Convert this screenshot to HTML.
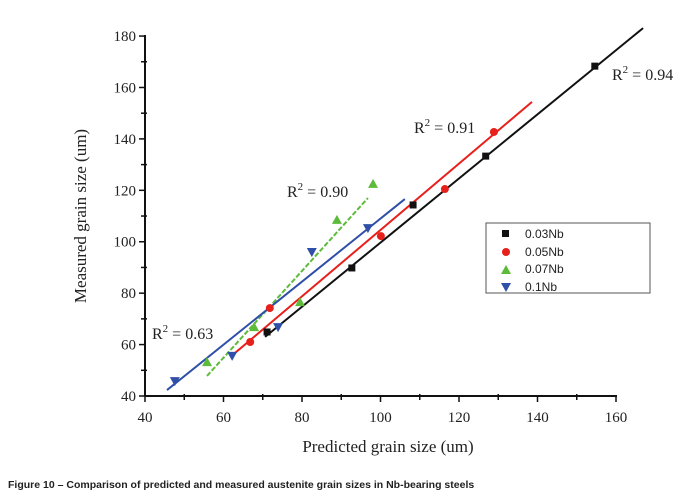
<!DOCTYPE html>
<html><head><meta charset="utf-8"><style>
html,body{margin:0;padding:0;background:#fff;}
svg{display:block;}
.tk{font-family:"Liberation Serif",serif;font-size:15px;fill:#222;}
</style></head><body>
<svg id="chart" width="694" height="493" viewBox="0 0 694 493">
<g id="axes"></g><g id="lines"></g><g id="marks"></g>
<text x="86" y="216" transform="rotate(-90 86 216)" text-anchor="middle" font-family="Liberation Serif,serif" font-size="17" fill="#222">Measured grain size (um)</text>
<text x="388" y="452" text-anchor="middle" font-family="Liberation Serif,serif" font-size="17" fill="#222">Predicted grain size (um)</text>
<text x="8" y="488" font-family="Liberation Sans,sans-serif" font-size="10.5" font-weight="bold" fill="#222">Figure 10 – Comparison of predicted and measured austenite grain sizes in Nb-bearing steels</text>
<g font-family="Liberation Serif,serif" font-size="16" fill="#222">
<text x="612" y="80">R<tspan dy="-7" font-size="11">2</tspan><tspan dy="7"> = 0.94</tspan></text>
<text x="414" y="133">R<tspan dy="-7" font-size="11">2</tspan><tspan dy="7"> = 0.91</tspan></text>
<text x="287" y="197">R<tspan dy="-7" font-size="11">2</tspan><tspan dy="7"> = 0.90</tspan></text>
<text x="152" y="339">R<tspan dy="-7" font-size="11">2</tspan><tspan dy="7"> = 0.63</tspan></text>
</g>
<g>
<rect x="486" y="223" width="164" height="70" fill="#fff" stroke="#555" stroke-width="1"/>
<rect x="502" y="230" width="7" height="7" fill="#111"/>
<text x="525" y="238" font-family="Liberation Sans,sans-serif" font-size="12" fill="#222">0.03Nb</text>
<circle cx="506" cy="252" r="4" fill="#e8201c"/>
<text x="525" y="256" font-family="Liberation Sans,sans-serif" font-size="12" fill="#222">0.05Nb</text>
<polygon points="506,265 511,274 501,274" fill="#5dbb3a"/>
<text x="525" y="273" font-family="Liberation Sans,sans-serif" font-size="12" fill="#222">0.07Nb</text>
<polygon points="501,283 511,283 506,292" fill="#2f4fa8"/>
<text x="525" y="291" font-family="Liberation Sans,sans-serif" font-size="12" fill="#222">0.1Nb</text>
</g>
</svg>
<script>
const xTicks=[40,60,80,100,120,140,160];
const yTicks=[40,60,80,100,120,140,160,180];
const seriesNames=["0.03Nb","0.05Nb","0.07Nb","0.1Nb"];
const blackX=[71.1,92.7,108.3,126.8,154.6];
const blackY=[64.9,89.8,114.3,133.3,168.3];
const redX=[66.8,71.8,100.1,116.4,128.9];
const redY=[61,74.2,102.2,120.5,142.7];
const greenX=[55.8,67.8,79.5,88.9,98.1];
const greenY=[53.2,66.8,76.5,108.5,122.5];
const blueX=[47.6,62.2,73.9,82.5,96.8];
const blueY=[45.8,55.6,66.8,96,105.3];
const blackFitX=[70.6,166.9];const blackFitY=[63,183.1];
const redFitX=[62.9,138.6];const redFitY=[56.7,154.4];
const greenFitX=[55.8,96.8];const greenFitY=[47.8,117];
const blueFitX=[45.6,106.2];const blueFitY=[42.3,116.6];

const X0=145,XS=3.925,Y0=396,YS=2.571;
function sx(v){return X0+(v-40)*XS;}
function sy(v){return Y0-(v-40)*YS;}
const NS="http://www.w3.org/2000/svg";
function mk(t,a,p){const e=document.createElementNS(NS,t);for(const k in a)e.setAttribute(k,a[k]);p.appendChild(e);return e;}
const ax=document.getElementById('axes');
let l=mk('line',{x1:X0,y1:sy(180)-1,x2:X0,y2:Y0,stroke:'#111','stroke-width':2},ax);


l=mk('line',{x1:X0,y1:Y0,x2:sx(160)+1,y2:Y0,stroke:'#111','stroke-width':2},ax);


for(let v=40;v<=160;v+=10){const x=sx(v);const maj=(v%20===0);
 mk('line',{x1:x,y1:Y0-(maj?0:2),x2:x,y2:Y0+(maj?6:4),stroke:'#111','stroke-width':1.5},ax);}
for(let v=40;v<=180;v+=10){const y=sy(v);const maj=(v%20===0);
 mk('line',{x1:X0-(maj?6:4),y1:y,x2:X0+(maj?0:2),y2:y,stroke:'#111','stroke-width':1.5},ax);}
xTicks.forEach(v=>{const t=mk('text',{x:sx(v),y:422,'text-anchor':'middle',class:'tk'},ax);t.textContent=v;
 
 });
yTicks.forEach(v=>{const t=mk('text',{x:X0-9,y:sy(v)+5,'text-anchor':'end',class:'tk'},ax);t.textContent=v;
 
 });
const lg=document.getElementById('lines');
const fits=[[blackFitX,blackFitY,'#111',''],[redFitX,redFitY,'#e8201c',''],[greenFitX,greenFitY,'#5dbb3a','5,2'],[blueFitX,blueFitY,'#2f4fa8','']];
fits.forEach((f,i)=>{const e=mk('line',{x1:sx(f[0][0]),y1:sy(f[1][0]),x2:sx(f[0][1]),y2:sy(f[1][1]),stroke:f[2],'stroke-width':2,'stroke-dasharray':f[3]},lg);
 
 });
const mg=document.getElementById('marks');
blackX.forEach((v,i)=>{const x=sx(v),y=sy(blackY[i]);const e=mk('rect',{x:x-3.5,y:y-3.5,width:7,height:7,fill:'#111'},mg);
 
 });
redX.forEach((v,i)=>{const e=mk('circle',{cx:sx(v),cy:sy(redY[i]),r:4,fill:'#e8201c'},mg);
 
 });
greenX.forEach((v,i)=>{const x=sx(v),y=sy(greenY[i]);const e=mk('polygon',{points:`${x},${y-5} ${x+5},${y+4} ${x-5},${y+4}`,fill:'#5dbb3a'},mg);
 
 });
blueX.forEach((v,i)=>{const x=sx(v),y=sy(blueY[i]);const e=mk('polygon',{points:`${x-5},${y-4} ${x+5},${y-4} ${x},${y+5}`,fill:'#2f4fa8'},mg);
 
 });
</script>
</body></html>
